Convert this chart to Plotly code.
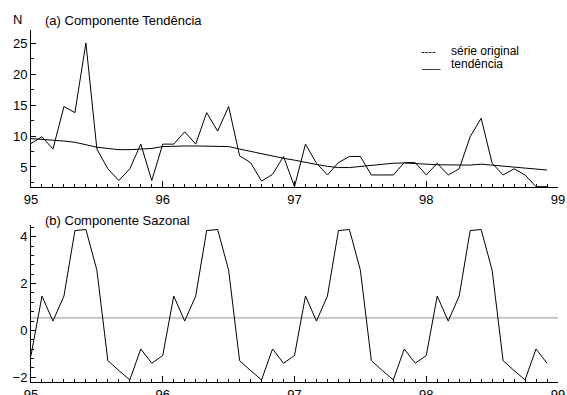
import plotly.graph_objects as go
from plotly.subplots import make_subplots

# ---- data ----
months = [95 + i / 12 for i in range(48)]

serie_original = [
    8.8, 9.9, 7.9, 14.8, 13.8, 25.1, 7.9, 4.7, 2.8, 4.7, 8.7, 2.8,
    8.7, 8.7, 10.7, 8.7, 13.8, 10.8, 14.8, 6.8, 5.7, 2.7, 3.8, 6.7,
    1.8, 8.7, 5.6, 3.7, 5.7, 6.7, 6.7, 3.7, 3.7, 3.7, 5.7, 5.7,
    3.7, 5.6, 3.7, 4.7, 9.9, 12.9, 5.6, 3.7, 4.7, 3.7, 1.8, 1.8,
]

tendencia = [
    9.6, 9.5, 9.3, 9.2, 9.0, 8.6, 8.2, 8.0, 7.8, 7.8, 7.9, 8.0,
    8.3, 8.4, 8.4, 8.4, 8.4, 8.4, 8.3, 7.9, 7.5, 7.1, 6.7, 6.4,
    6.1, 5.7, 5.4, 5.1, 4.9, 4.9, 5.1, 5.3, 5.45, 5.6, 5.65, 5.6,
    5.45, 5.35, 5.3, 5.3, 5.3, 5.45, 5.3, 5.2, 5.0, 4.85, 4.7, 4.5,
]

sazonal = [
    -1.07, 1.47, 0.40, 1.47, 4.26, 4.31, 2.57, -1.29, -1.71, -2.11, -0.79, -1.40,
    -1.07, 1.47, 0.40, 1.47, 4.26, 4.31, 2.57, -1.29, -1.71, -2.11, -0.79, -1.40,
    -1.07, 1.47, 0.40, 1.47, 4.26, 4.31, 2.57, -1.29, -1.71, -2.11, -0.79, -1.40,
    -1.07, 1.47, 0.40, 1.47, 4.26, 4.31, 2.57, -1.29, -1.71, -2.11, -0.79, -1.40,
]

linha_referencia = 0.54

x_ticks = [95, 96, 97, 98, 99]
x_labels = ["95", "96", "97", "98", "99"]
y_ticks_a = [5, 10, 15, 20, 25]
y_ticks_b = [-2, 0, 2, 4]

FONT = "Liberation Sans, Arial, Helvetica, sans-serif"

fig = make_subplots(rows=2, cols=1, shared_xaxes=False, vertical_spacing=0.108)

fig.add_trace(go.Scatter(x=months, y=serie_original, mode="lines",
                         line=dict(color="black", width=1), showlegend=False),
              row=1, col=1)
fig.add_trace(go.Scatter(x=months, y=tendencia, mode="lines",
                         line=dict(color="black", width=1), showlegend=False),
              row=1, col=1)
fig.add_trace(go.Scatter(x=[95, 99], y=[linha_referencia, linha_referencia], mode="lines",
                         line=dict(color="#aaaaaa", width=1.3), showlegend=False),
              row=2, col=1)
fig.add_trace(go.Scatter(x=months, y=sazonal, mode="lines",
                         line=dict(color="black", width=1), showlegend=False),
              row=2, col=1)

xcommon = dict(range=[95, 99], tickvals=x_ticks, ticktext=x_labels, automargin=False,
               showline=True, linecolor="black", linewidth=1,
               ticks="inside", ticklen=6, tickcolor="black", tickwidth=1,
               showgrid=False, zeroline=False,
               minor=dict(dtick=1 / 12, tick0=95, ticks="inside", ticklen=3,
                          tickcolor="black", showgrid=False),
               tickfont=dict(family=FONT, size=13, color="black"))
fig.update_xaxes(**xcommon, row=1, col=1)
fig.update_xaxes(**xcommon, row=2, col=1)

ycommon = dict(showline=True, linecolor="black", linewidth=1, automargin=False,
               ticks="inside", ticklen=5, tickcolor="black", tickwidth=1,
               showgrid=False, zeroline=False,
               tickfont=dict(family=FONT, size=13, color="black"))
fig.update_yaxes(**ycommon, range=[1.75, 27.2], tickvals=y_ticks_a,
                 minor=dict(dtick=2.5, tick0=0, ticks="inside", ticklen=3,
                            tickcolor="black", showgrid=False),
                 row=1, col=1)
fig.update_yaxes(**ycommon, range=[-2.2, 4.5], tickvals=y_ticks_b,
                 minor=dict(dtick=0.4, tick0=0, ticks="inside", ticklen=3,
                            tickcolor="black", showgrid=False),
                 row=2, col=1)

fig.update_layout(
    width=567, height=395,
    margin=dict(l=31, r=9, t=30, b=13),
    plot_bgcolor="white", paper_bgcolor="white",
    font=dict(family=FONT, size=13, color="black"),
)
fig.update_layout(yaxis=dict(domain=[0.554, 1.0]), yaxis2=dict(domain=[0.0, 0.446]))

ann = [
    dict(text="N", x=17, y=19),
    dict(text="(a) Componente Tendência", x=43, y=20, anchor="left"),
    dict(text="(b) Componente Sazonal", x=43, y=220, anchor="left"),
    dict(text="----", x=419, y=51, anchor="left", size=11),
    dict(text="série original", x=449, y=51, anchor="left", size=12),
    dict(text="___", x=419, y=64, anchor="left", size=11),
    dict(text="tendência", x=449, y=64, anchor="left", size=12),
]
for a in ann:
    fig.add_annotation(
        text=a["text"], xref="paper", yref="paper",
        x=(a["x"] - 31) / 527, y=(382 - a["y"]) / 352,
        xanchor=a.get("anchor", "center"), yanchor="middle",
        showarrow=False, font=dict(family=FONT, size=a.get("size", 13), color="black"),
    )

fig.write_html("out.html")
